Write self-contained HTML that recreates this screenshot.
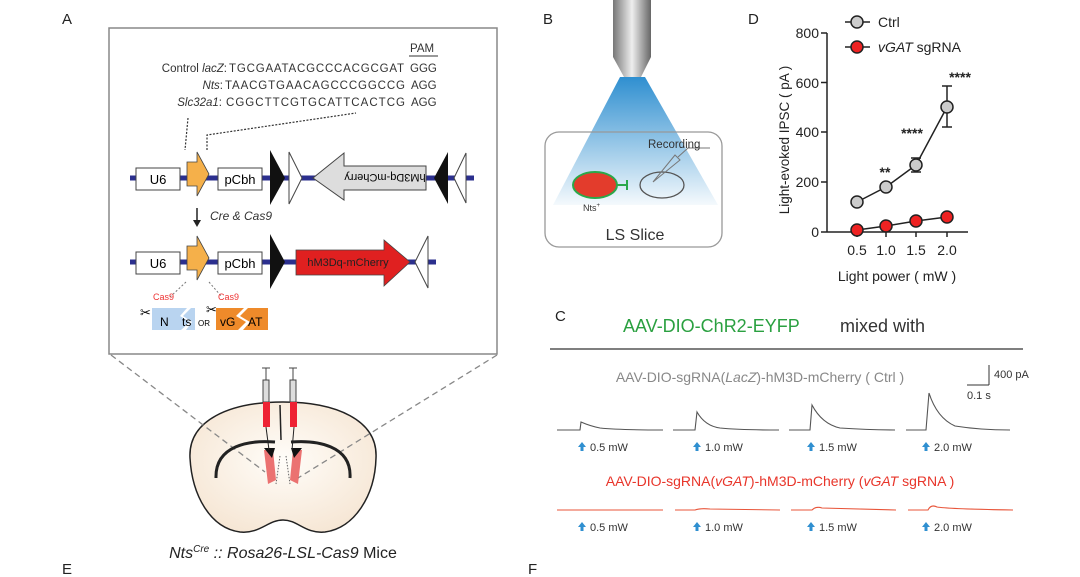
<!DOCTYPE html>
<html><head><meta charset="utf-8"><style>
body{margin:0;background:#fff;}
svg{display:block;font-family:"Liberation Sans",Arial,sans-serif;}
</style></head><body>
<svg width="1080" height="577" viewBox="0 0 1080 577" xmlns="http://www.w3.org/2000/svg">
<defs>
<linearGradient id="cone" x1="0" y1="0" x2="0" y2="1">
<stop offset="0" stop-color="#2f8fd0"/><stop offset="1" stop-color="#2f8fd0" stop-opacity="0.05"/></linearGradient>
<linearGradient id="obj" x1="0" y1="0" x2="1" y2="0">
<stop offset="0" stop-color="#777"/><stop offset="0.5" stop-color="#eee"/><stop offset="1" stop-color="#666"/></linearGradient>
<radialGradient id="brain" cx="0.5" cy="0.45" r="0.6"><stop offset="0" stop-color="#fffdf9"/><stop offset="1" stop-color="#f6e6d4"/></radialGradient>
</defs>
<g font-size="15" fill="#222">
<text x="62" y="24">A</text><text x="543" y="24">B</text><text x="748" y="24">D</text>
<text x="555" y="321">C</text><text x="62" y="574">E</text><text x="528" y="574">F</text>
</g>
<!-- Panel A box -->
<rect x="109" y="28" width="388" height="326" fill="#fff" stroke="#888" stroke-width="1.5"/>
<g font-size="11.5" fill="#333">
<text x="410" y="52">PAM</text><line x1="409" y1="56" x2="438" y2="56" stroke="#333"/>
<text x="227" y="72" text-anchor="end">Control <tspan font-style="italic">lacZ</tspan>:</text>
<text x="229" y="72" textLength="175">TGCGAATACGCCCACGCGAT</text><text x="410" y="72">GGG</text>
<text x="223" y="89" text-anchor="end"><tspan font-style="italic">Nts</tspan>:</text>
<text x="225" y="89" textLength="180">TAACGTGAACAGCCCGGCCG</text><text x="411" y="89">AGG</text>
<text x="222" y="106" text-anchor="end"><tspan font-style="italic">Slc32a1</tspan>:</text>
<text x="226" y="106" textLength="179">CGGCTTCGTGCATTCACTCG</text><text x="411" y="106">AGG</text>
</g>
<g stroke="#333" stroke-dasharray="2,1.5" fill="none" stroke-width="1.2">
<path d="M188 118 L185 150"/><path d="M207 150 L207 135 L356 113"/></g>
<!-- construct 1 -->
<line x1="130" y1="178" x2="474" y2="178" stroke="#2b2f8e" stroke-width="5"/>
<rect x="136" y="168" width="44" height="22" fill="#fff" stroke="#444"/><text x="158" y="184" font-size="13" text-anchor="middle">U6</text>
<path d="M187 162 L197 162 L197 152 L209 174 L197 196 L197 186 L187 186 Z" fill="#f5b04a" stroke="#444" stroke-width=".8"/>
<rect x="218" y="168" width="44" height="22" fill="#fff" stroke="#444"/><text x="240" y="184" font-size="13" text-anchor="middle">pCbh</text>
<path d="M270 150 L285 178 L270 205 Z" fill="#111"/>
<path d="M289 152 L302 178 L289 204 Z" fill="#fff" stroke="#444"/>
<path d="M426 166 L344 166 L344 153 L313 178 L344 200 L344 190 L426 190 Z" fill="#ddd" stroke="#444"/>
<text x="385" y="182" font-size="11" text-anchor="middle" transform="rotate(180 385 178)">hM3Dq-mCherry</text>
<path d="M448 152 L434 178 L448 204 Z" fill="#111"/>
<path d="M466 153 L454 178 L466 203 Z" fill="#fff" stroke="#444"/>
<line x1="197" y1="208" x2="197" y2="222" stroke="#222" stroke-width="1.5"/><path d="M193 220 L197 227 L201 220Z" fill="#222"/>
<text x="210" y="220" font-size="12" font-style="italic" fill="#333">Cre &amp; Cas9</text>
<!-- construct 2 -->
<line x1="130" y1="262" x2="436" y2="262" stroke="#2b2f8e" stroke-width="5"/>
<rect x="136" y="252" width="44" height="22" fill="#fff" stroke="#444"/><text x="158" y="268" font-size="13" text-anchor="middle">U6</text>
<path d="M187 246 L197 246 L197 236 L209 258 L197 280 L197 270 L187 270 Z" fill="#f5b04a" stroke="#444" stroke-width=".8"/>
<rect x="218" y="252" width="44" height="22" fill="#fff" stroke="#444"/><text x="240" y="268" font-size="13" text-anchor="middle">pCbh</text>
<path d="M270 234 L285 262 L270 289 Z" fill="#111"/>
<path d="M296 250 L384 250 L384 240 L410 262 L384 286 L384 275 L296 275 Z" fill="#e02020" stroke="#444" stroke-width=".8"/>
<text x="348" y="266" font-size="11" text-anchor="middle" fill="#222">hM3Dq-mCherry</text>
<path d="M428 236 L415 262 L428 288 Z" fill="#fff" stroke="#444"/>
<g stroke="#777" stroke-dasharray="2,2"><line x1="186" y1="282" x2="170" y2="297"/><line x1="209" y1="282" x2="222" y2="297"/></g>
<text x="153" y="300" font-size="9" fill="#e33">Cas9</text><text x="218" y="300" font-size="9" fill="#e33">Cas9</text>
<text x="140" y="317" font-size="13">✂</text><text x="206" y="314" font-size="13">✂</text>
<path d="M152 308 L187 308 L180 316 L190 322 L181 330 L152 330 Z" fill="#b9d4f0"/><path d="M191 308 L195 308 L195 330 L186 330 L192 322 L183 316 Z" fill="#b9d4f0"/>
<text x="160" y="326" font-size="12">N</text><text x="182" y="326" font-size="12">ts</text>
<text x="198" y="326" font-size="8">OR</text>
<path d="M216 308 L244 308 L236 316 L246 322 L238 330 L216 330 Z" fill="#ee8a2a"/><path d="M248 308 L268 308 L268 330 L243 330 L250 322 L240 316 Z" fill="#ee8a2a"/>
<text x="220" y="326" font-size="12">vG</text><text x="248" y="326" font-size="12">AT</text>
<!-- brain -->
<path d="M190 458 C188 420 230 402 283 402 C336 402 378 420 376 458 C375 495 355 528 325 532 C305 534 298 520 283 520 C268 520 260 534 240 532 C210 528 192 495 190 458 Z" fill="url(#brain)" stroke="#222" stroke-width="1.5"/>
<g stroke="#888" stroke-dasharray="6,4" stroke-width="1.3" fill="none"><path d="M111 355 L265 472"/><path d="M497 355 L298 478"/></g>
<path d="M216 478 C215 445 250 440 275 442 M350 478 C352 445 316 440 291 442" stroke="#222" stroke-width="3" fill="none"/>
<path d="M264 450 L273 450 L276 480 L268 484 Z M302 450 L293 450 L290 480 L298 484 Z" fill="#e65050" opacity=".8"/>
<path d="M264 448 L275 448 L272 458 Z M302 448 L291 448 L294 458 Z" fill="#111"/>
<path d="M280 456 L276 484 M286 456 L290 484" stroke="#666" stroke-dasharray="1.5,1.5" fill="none"/>
<g fill="none" stroke="#444"><line x1="266" y1="368" x2="266" y2="403"/><line x1="262" y1="368" x2="270" y2="368"/><rect x="263" y="380" width="6" height="22" fill="#ddd"/>
<line x1="293" y1="368" x2="293" y2="403"/><line x1="289" y1="368" x2="297" y2="368"/><rect x="290" y="380" width="6" height="22" fill="#ddd"/></g>
<rect x="263" y="402" width="7" height="25" fill="#e23"/><rect x="290" y="402" width="7" height="25" fill="#e23"/>
<line x1="266" y1="427" x2="269" y2="450" stroke="#222"/><line x1="294" y1="427" x2="292" y2="450" stroke="#222"/>
<line x1="280" y1="405" x2="281" y2="440" stroke="#222" stroke-width="1.5"/>
<text x="283" y="558" font-size="16" text-anchor="middle" fill="#222"><tspan font-style="italic">Nts</tspan><tspan font-style="italic" font-size="10" dy="-6">Cre</tspan><tspan dy="6" font-style="italic"> :: Rosa26-LSL-Cas9</tspan> Mice</text>
<!-- Panel B -->
<path d="M620 77 L645 77 L718 205 L553 205 Z" fill="url(#cone)"/>
<path d="M613 0 L651 0 L651 57 L641 77 L624 77 L613 57 Z" fill="url(#obj)"/>
<rect x="545" y="132" width="177" height="115" rx="14" fill="none" stroke="#999" stroke-width="1.3"/>
<ellipse cx="595" cy="185" rx="22" ry="13" fill="#e33c2c" stroke="#2aa84a" stroke-width="2"/>
<line x1="617" y1="185" x2="627" y2="185" stroke="#2aa84a" stroke-width="2"/><line x1="627" y1="180" x2="627" y2="190" stroke="#2aa84a" stroke-width="2"/>
<ellipse cx="662" cy="185" rx="22" ry="13" fill="none" stroke="#555" stroke-width="1.3"/>
<path d="M653 182 L675 155 L680 160 Z" fill="none" stroke="#777"/><path d="M678 157 L688 148 L710 148" stroke="#777" fill="none"/>
<text x="648" y="148" font-size="11.5" fill="#333">Recording</text>
<text x="583" y="211" font-size="9" fill="#333">Nts<tspan font-size="6" dy="-4">+</tspan></text>
<text x="635" y="240" font-size="16" text-anchor="middle" fill="#333">LS Slice</text>
<!-- Panel D -->
<g stroke="#222" stroke-width="1.5" fill="none">
<line x1="827" y1="33" x2="827" y2="232"/><line x1="827" y1="232" x2="968" y2="232"/>
<line x1="821" y1="33" x2="827" y2="33"/><line x1="821" y1="82.5" x2="827" y2="82.5"/><line x1="821" y1="132" x2="827" y2="132"/><line x1="821" y1="182" x2="827" y2="182"/><line x1="821" y1="232" x2="827" y2="232"/>
<line x1="857" y1="232" x2="857" y2="237"/><line x1="886" y1="232" x2="886" y2="237"/><line x1="916" y1="232" x2="916" y2="237"/><line x1="947" y1="232" x2="947" y2="237"/>
<polyline points="857,202 886,187 916,165 947,107"/><polyline points="857,230 886,226 916,221 947,217"/>
<line x1="947" y1="86" x2="947" y2="127"/><line x1="942" y1="86" x2="952" y2="86"/><line x1="942" y1="127" x2="952" y2="127"/>
<line x1="916" y1="158" x2="916" y2="172"/><line x1="911" y1="158" x2="921" y2="158"/><line x1="911" y1="172" x2="921" y2="172"/>
<line x1="845" y1="22" x2="870" y2="22"/><line x1="845" y1="47" x2="870" y2="47"/>
</g>
<g stroke="#222" stroke-width="1.5"><circle cx="857" cy="202" r="6" fill="#ccc"/><circle cx="886" cy="187" r="6" fill="#ccc"/><circle cx="916" cy="165" r="6" fill="#ccc"/><circle cx="947" cy="107" r="6" fill="#ccc"/><circle cx="857" cy="22" r="6" fill="#ccc"/>
<circle cx="857" cy="230" r="6" fill="#e22"/><circle cx="886" cy="226" r="6" fill="#e22"/><circle cx="916" cy="221" r="6" fill="#e22"/><circle cx="947" cy="217" r="6" fill="#e22"/><circle cx="857" cy="47" r="6" fill="#e22"/></g>
<g font-size="14" fill="#222">
<text x="878" y="27">Ctrl</text><text x="878" y="52"><tspan font-style="italic">vGAT</tspan> sgRNA</text>
<g text-anchor="end"><text x="819" y="38">800</text><text x="819" y="88">600</text><text x="819" y="137">400</text><text x="819" y="187">200</text><text x="819" y="237">0</text></g>
<g text-anchor="middle"><text x="857" y="255">0.5</text><text x="886" y="255">1.0</text><text x="916" y="255">1.5</text><text x="947" y="255">2.0</text>
<text x="897" y="281">Light power ( mW )</text>
<text transform="translate(789,140) rotate(-90)" font-size="13.5">Light-evoked IPSC ( pA )</text>
<text x="885" y="177" font-weight="bold">**</text><text x="912" y="138" font-weight="bold">****</text><text x="960" y="82" font-weight="bold">****</text></g>
</g>
<!-- Panel C -->
<text x="623" y="332" font-size="18" fill="#2aa040">AAV-DIO-ChR2-EYFP</text>
<text x="840" y="332" font-size="18" fill="#333">mixed with</text>
<line x1="550" y1="349" x2="1023" y2="349" stroke="#555" stroke-width="1.5"/>
<text x="760" y="382" font-size="14" fill="#888" text-anchor="middle">AAV-DIO-sgRNA(<tspan font-style="italic">LacZ</tspan>)-hM3D-mCherry ( Ctrl )</text>
<g stroke="#333" stroke-width="1"><line x1="989" y1="365" x2="989" y2="385"/><line x1="967" y1="385" x2="989" y2="385"/></g>
<text x="994" y="378" font-size="11" fill="#333">400 pA</text><text x="967" y="399" font-size="11" fill="#333">0.1 s</text>
<g fill="none" stroke="#555" stroke-width="1.1">
<path d="M557 430 L580 430 L581 422 Q590 426 600 428 Q620 430 663 430"/>
<path d="M673 430 L695 430 L697 412 Q705 426 720 428 Q740 430 779 430"/>
<path d="M789 430 L810 430 L812 405 Q822 424 840 428 Q870 430 895 430"/>
<path d="M906 430 L926 430 L929 393 Q937 418 955 426 Q980 430 1010 430"/>
</g>
<g font-size="11" fill="#333">
<text x="590" y="451">0.5 mW</text><text x="705" y="451">1.0 mW</text><text x="819" y="451">1.5 mW</text><text x="934" y="451">2.0 mW</text>
<text x="590" y="531">0.5 mW</text><text x="705" y="531">1.0 mW</text><text x="819" y="531">1.5 mW</text><text x="934" y="531">2.0 mW</text>
</g>
<g fill="#2f8fd0">
<path d="M582 442 L586 447 L583.5 447 L583.5 451 L580.5 451 L580.5 447 L578 447Z"/>
<path d="M697 442 L701 447 L698.5 447 L698.5 451 L695.5 451 L695.5 447 L693 447Z"/>
<path d="M811 442 L815 447 L812.5 447 L812.5 451 L809.5 451 L809.5 447 L807 447Z"/>
<path d="M926 442 L930 447 L927.5 447 L927.5 451 L924.5 451 L924.5 447 L922 447Z"/>
<path d="M582 522 L586 527 L583.5 527 L583.5 531 L580.5 531 L580.5 527 L578 527Z"/>
<path d="M697 522 L701 527 L698.5 527 L698.5 531 L695.5 531 L695.5 527 L693 527Z"/>
<path d="M811 522 L815 527 L812.5 527 L812.5 531 L809.5 531 L809.5 527 L807 527Z"/>
<path d="M926 522 L930 527 L927.5 527 L927.5 531 L924.5 531 L924.5 527 L922 527Z"/>
</g>
<text x="780" y="486" font-size="14" fill="#e8352a" text-anchor="middle">AAV-DIO-sgRNA(<tspan font-style="italic">vGAT</tspan>)-hM3D-mCherry (<tspan font-style="italic">vGAT</tspan> sgRNA )</text>
<g fill="none" stroke="#e8553a" stroke-width="1.1">
<path d="M557 510 L663 510"/><path d="M675 510 L695 510 Q700 508 710 509 L780 510"/>
<path d="M791 510 L812 510 Q816 506 822 508 L896 510"/><path d="M908 510 L928 510 Q931 504 937 507 Q950 509 1013 510"/>
</g>
</svg>
</body></html>
